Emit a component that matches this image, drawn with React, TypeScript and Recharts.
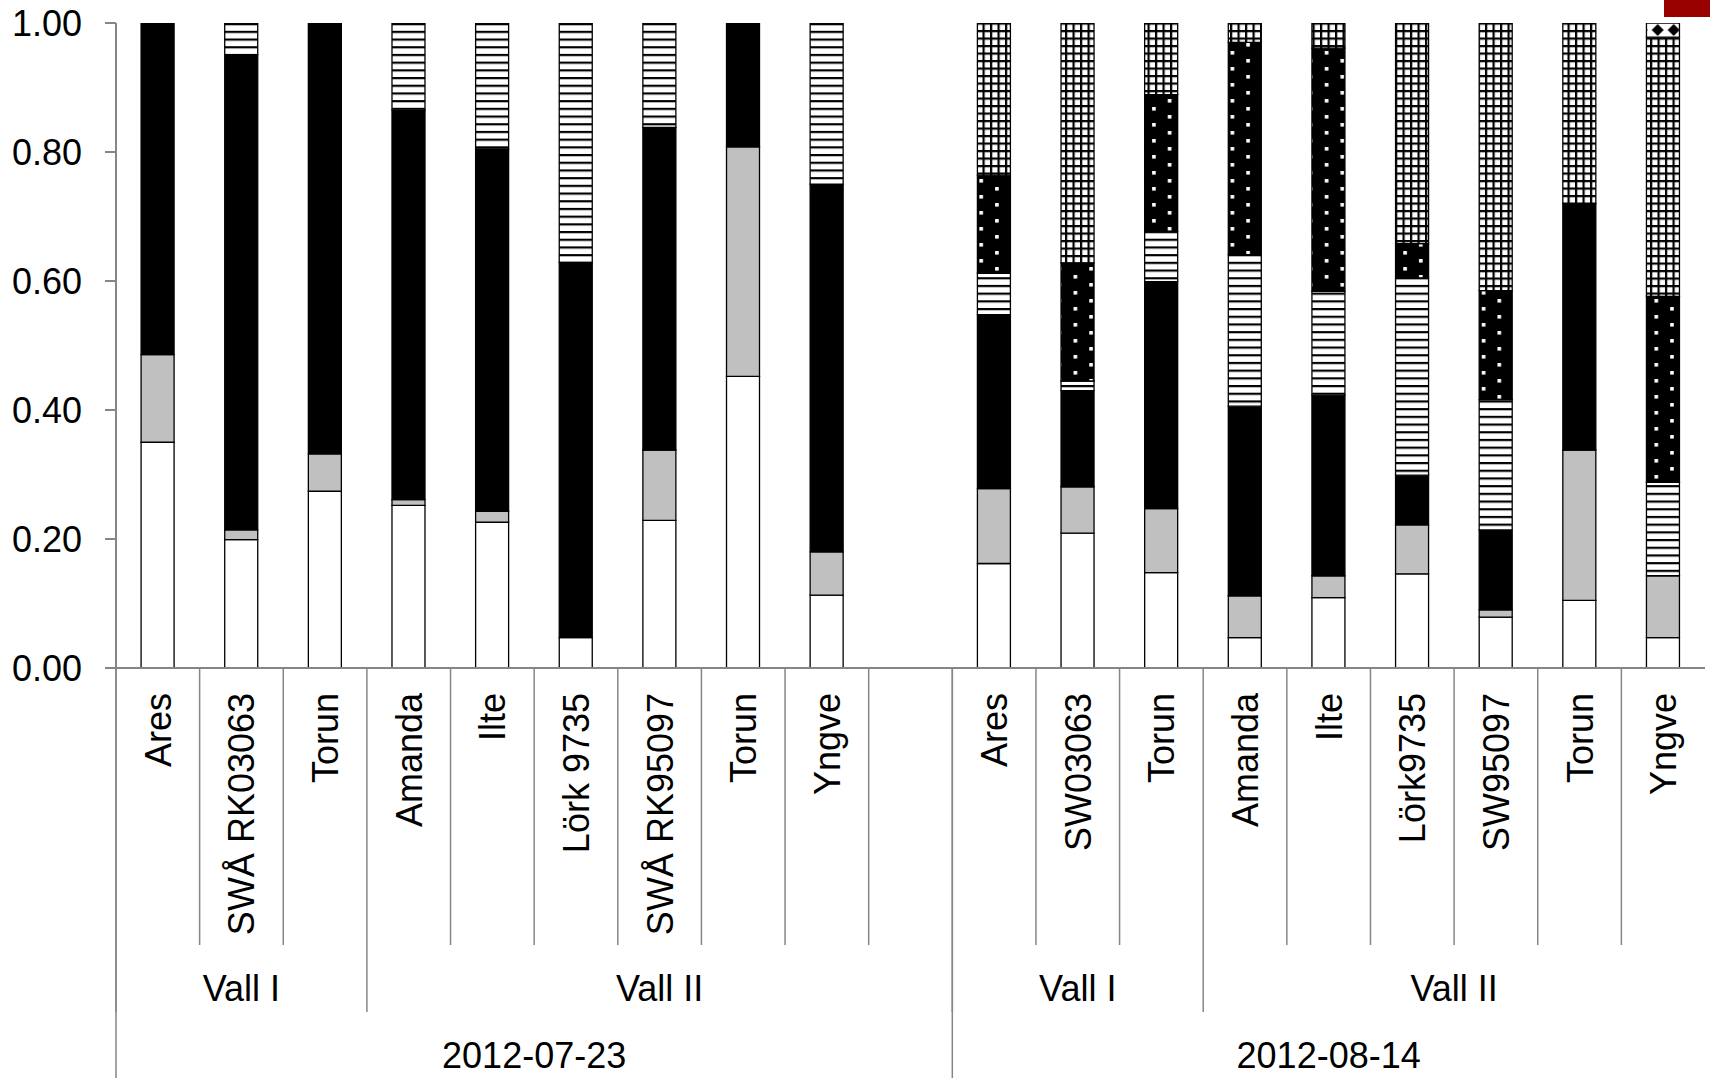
import { Bar, BarChart, XAxis, YAxis } from "recharts";

const categories = [
  "Ares", "SWÅ RK03063", "Torun", "Amanda", "Ilte", "Lörk 9735", "SWÅ RK95097", "Torun", "Yngve", "",
  "Ares", "SW03063", "Torun", "Amanda", "Ilte", "Lörk9735", "SW95097", "Torun", "Yngve",
];
const fields = [
  "Vall I", "Vall I", "Vall I", "Vall II", "Vall II", "Vall II", "Vall II", "Vall II", "Vall II", "Vall II",
  "Vall I", "Vall I", "Vall I", "Vall II", "Vall II", "Vall II", "Vall II", "Vall II", "Vall II",
];
const dates = [
  "2012-07-23", "2012-07-23", "2012-07-23", "2012-07-23", "2012-07-23",
  "2012-07-23", "2012-07-23", "2012-07-23", "2012-07-23", "2012-07-23",
  "2012-08-14", "2012-08-14", "2012-08-14", "2012-08-14", "2012-08-14",
  "2012-08-14", "2012-08-14", "2012-08-14", "2012-08-14",
];

const white = [0.350, 0.199, 0.274, 0.252, 0.226, 0.047, 0.229, 0.452, 0.113, null, 0.162, 0.209, 0.148, 0.047, 0.109, 0.146, 0.079, 0.105, 0.047];
const grey = [0.136, 0.015, 0.058, 0.009, 0.017, 0, 0.109, 0.356, 0.067, null, 0.116, 0.072, 0.099, 0.065, 0.034, 0.076, 0.011, 0.233, 0.096];
const black = [0.514, 0.737, 0.668, 0.604, 0.562, 0.582, 0.500, 0.192, 0.570, null, 0.270, 0.149, 0.352, 0.294, 0.280, 0.077, 0.124, 0.382, 0];
const stripes = [0, 0.049, 0, 0.135, 0.195, 0.371, 0.162, 0, 0.250, null, 0.064, 0.015, 0.078, 0.235, 0.161, 0.306, 0.202, 0, 0.145];
const dots = [0, 0, 0, 0, 0, 0, 0, 0, 0, null, 0.152, 0.183, 0.212, 0.329, 0.377, 0.053, 0.169, 0, 0.288];
const grid = [0, 0, 0, 0, 0, 0, 0, 0, 0, null, 0.236, 0.372, 0.111, 0.030, 0.039, 0.342, 0.415, 0.280, 0.402];
const diamonds = [0, 0, 0, 0, 0, 0, 0, 0, 0, null, 0, 0, 0, 0, 0, 0, 0, 0, 0.022];

const yTicks = [0, 0.2, 0.4, 0.6, 0.8, 1.0];

const data = categories.map((name, i) => ({
  key: `c${i}`,
  name,
  white: white[i],
  grey: grey[i],
  black: black[i],
  stripes: stripes[i],
  dots: dots[i],
  grid: grid[i],
  diamonds: diamonds[i],
}));

const CHART_W = 1710;
const CHART_H = 1078;
const Y_AXIS_W = 116;
const MARGIN = { top: 23, right: 5, bottom: 0, left: 0 };
const L1 = 277;
const L2 = 67;
const L3 = 66;
const X_AXIS_H = L1 + L2 + L3;
const AXIS_Y = CHART_H - X_AXIS_H;
const SLOT_W = (CHART_W - Y_AXIS_W - MARGIN.right - MARGIN.left) / categories.length;
const LINE = "#868686";
const FONT = 36;

// last index of the run of equal labels starting at i
const runEnd = (arr: string[], i: number) => {
  let j = i;
  while (j + 1 < arr.length && arr[j + 1] === arr[i]) j++;
  return j;
};

const CategoryTick = (props: any) => {
  const { x, payload } = props;
  const i = payload.index;
  const left = x - SLOT_W / 2;
  const items: any[] = [];

  items.push(
    <line key="l1" x1={left} x2={left} y1={AXIS_Y} y2={AXIS_Y + L1} stroke={LINE} strokeWidth={1.5} />
  );
  items.push(
    <text
      key="t1"
      transform={`translate(${x}, ${AXIS_Y + 25}) rotate(-90)`}
      textAnchor="end"
      dy="0.36em"
      fontSize={FONT}
      fill="#000"
    >
      {categories[i]}
    </text>
  );

  const newField = i === 0 || fields[i] !== fields[i - 1] || dates[i] !== dates[i - 1];
  if (newField) {
    const end = runEnd(fields, i);
    const cx = left + ((end - i + 1) * SLOT_W) / 2;
    items.push(
      <line key="l2" x1={left} x2={left} y1={AXIS_Y + L1} y2={AXIS_Y + L1 + L2} stroke={LINE} strokeWidth={1.5} />
    );
    items.push(
      <text key="t2" x={cx} y={AXIS_Y + L1 + 43} dy="0.36em" textAnchor="middle" fontSize={FONT} fill="#000">
        {fields[i]}
      </text>
    );
  }

  if (i === 0 || dates[i] !== dates[i - 1]) {
    const end = runEnd(dates, i);
    const cx = left + ((end - i + 1) * SLOT_W) / 2;
    items.push(
      <line key="l3" x1={left} x2={left} y1={AXIS_Y} y2={CHART_H} stroke={LINE} strokeWidth={1.5} />
    );
    items.push(
      <text key="t3" x={cx} y={AXIS_Y + L1 + L2 + 43} dy="0.36em" textAnchor="middle" fontSize={FONT} fill="#000">
        {dates[i]}
      </text>
    );
  }

  return <g>{items}</g>;
};

const Patterns = () => (
  <svg width="0" height="0" style={{ position: "absolute" }}>
    <defs>
      <pattern id="pStripes" patternUnits="userSpaceOnUse" width="8" height="7.7">
        <rect width="8" height="7.7" fill="#fff" />
        <rect width="8" height="2.2" fill="#000" />
      </pattern>
      <pattern id="pGrid" patternUnits="userSpaceOnUse" width="7.5" height="7.5">
        <rect width="7.5" height="7.5" fill="#fff" />
        <rect width="7.5" height="2.2" fill="#000" />
        <rect width="2.2" height="7.5" fill="#000" />
      </pattern>
      <pattern id="pDots" patternUnits="userSpaceOnUse" width="31.4" height="16">
        <rect width="31.4" height="16" fill="#000" />
        <rect x="6" y="3" width="3.6" height="3.6" fill="#fff" />
        <rect x="21.7" y="11" width="3.6" height="3.6" fill="#fff" />
      </pattern>
      <pattern id="pDiamonds" patternUnits="userSpaceOnUse" x="1.7" y="6" width="16" height="16">
        <rect width="16" height="16" fill="#fff" />
        <polygon points="8,2 14,8 8,14 2,8" fill="#000" />
      </pattern>
    </defs>
  </svg>
);

export default function App() {
  const barProps = { stackId: "a", stroke: "#000", strokeWidth: 1.3, isAnimationActive: false };
  return (
    <div
      style={{
        position: "absolute",
        left: 0,
        top: 0,
        width: CHART_W,
        height: CHART_H,
        background: "#fff",
        fontFamily: "'Liberation Sans', Arial, sans-serif",
      }}
    >
      <Patterns />
      <div style={{ position: "absolute", left: 1664, top: 0, width: 46, height: 17, background: "#990000" }} />
      <BarChart width={CHART_W} height={CHART_H} data={data} margin={MARGIN} barCategoryGap="30%">
        <XAxis
          dataKey="key"
          interval={0}
          height={X_AXIS_H}
          tickLine={false}
          tickSize={0}
          tickMargin={0}
          axisLine={{ stroke: LINE, strokeWidth: 2 }}
          tick={<CategoryTick />}
        />
        <YAxis
          width={Y_AXIS_W}
          domain={[0, 1]}
          allowDataOverflow
          ticks={yTicks}
          interval={0}
          tickFormatter={(v: number) => v.toFixed(2)}
          tickSize={11}
          tickMargin={23}
          axisLine={{ stroke: LINE, strokeWidth: 2 }}
          tickLine={{ stroke: LINE, strokeWidth: 2 }}
          tick={{ fill: "#000", fontSize: FONT }}
        />
        <Bar dataKey="white" fill="#ffffff" {...barProps} />
        <Bar dataKey="grey" fill="#c0c0c0" {...barProps} />
        <Bar dataKey="black" fill="#000000" {...barProps} />
        <Bar dataKey="stripes" fill="url(#pStripes)" {...barProps} />
        <Bar dataKey="dots" fill="url(#pDots)" {...barProps} />
        <Bar dataKey="grid" fill="url(#pGrid)" {...barProps} />
        <Bar dataKey="diamonds" fill="url(#pDiamonds)" {...barProps} />
      </BarChart>
    </div>
  );
}
